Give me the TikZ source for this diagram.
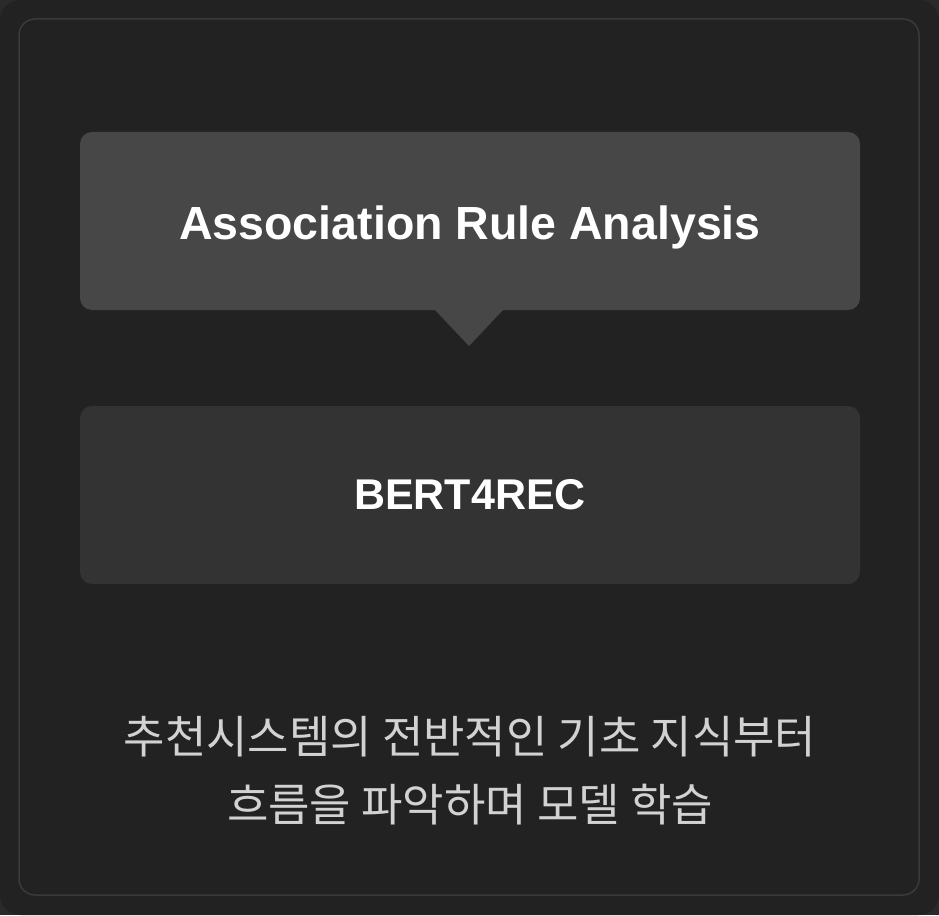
\documentclass[tikz,border=0pt]{standalone}
\usepackage{fontspec}
\setmainfont{Liberation Sans}
\newfontfamily\krfont{Noto Sans CJK KR}
\definecolor{bgout}{HTML}{2A2A2A}
\definecolor{bgmain}{HTML}{222222}
\definecolor{frame}{HTML}{3A3A3A}
\definecolor{topbox}{HTML}{474747}
\definecolor{botbox}{HTML}{333333}
\definecolor{krtext}{HTML}{D2D2D2}
\begin{document}
\begin{tikzpicture}[x=1pt,y=-1pt,
  box/.style={rounded corners=12pt, draw=none},
  title/.style={text=white, font=\bfseries\fontsize{46.5}{54}\selectfont, inner sep=0pt},
  label/.style={text=white, font=\bfseries\fontsize{43}{49}\selectfont, inner sep=0pt},
  kr/.style={text=krtext, font=\krfont\fontsize{45}{68}\selectfont, align=center, inner sep=0pt}]
\useasboundingbox (0,0) rectangle (939,915);
\fill[bgout] (0,0) rectangle (939,915);
\fill[bgmain, rounded corners=20pt] (0,0) rectangle (939,915);
\draw[frame, line width=1.5pt, rounded corners=16pt] (19,19) rectangle (919,895);
\fill[topbox, box] (80,132) rectangle (860,310);
\fill[topbox] (434,309) -- (504,309) -- (469,346) -- cycle;
\fill[botbox, box] (80,406) rectangle (860,584);
\node[title] (t1) at (470,227) {Association Rule Analysis};
\node[label] (t2) at (470,495) {BERT4REC};
\node[kr] (t3) at (470,771) {추천시스템의 전반적인 기초 지식부터\\흐름을 파악하며 모델 학습};
\end{tikzpicture}
\end{document}
